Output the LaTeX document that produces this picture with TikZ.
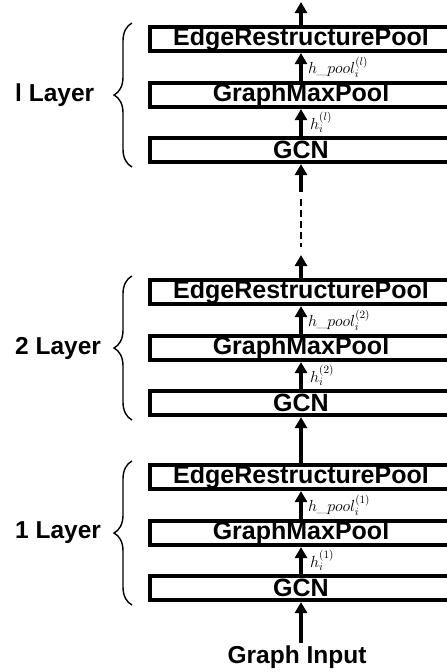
\RequirePackage{fix-cm}
\documentclass[tikz,border=0pt]{standalone}
\usepackage[no-math]{fontspec}
\newfontfamily\labelfont{Liberation Sans}
\usetikzlibrary{arrows.meta,decorations.pathreplacing}

\begin{document}
\begin{tikzpicture}[x=1pt,y=-1pt,
  block/.style={draw, line width=3.6pt, minimum width=302pt, minimum height=24.5pt,
    inner sep=0pt, font=\labelfont\bfseries\fontsize{25}{27}\selectfont},
  flow/.style={line width=3.6pt, -{Triangle[width=12pt,length=11pt]}},
  feat/.style={anchor=west, inner sep=0pt, font=\fontsize{16}{18}\selectfont},
  layername/.style={anchor=west, inner sep=0pt, font=\labelfont\bfseries\fontsize{24.5}{26}\selectfont},
  groupbrace/.style={decorate, decoration={brace, amplitude=18pt}, line width=1.4pt},
  skip/.style={line width=2.6pt, dash pattern=on 7pt off 4pt}]

\useasboundingbox (0,0) rectangle (447,672);
\clip (0,0) rectangle (447,672);

% three stacked layers: GCN -> GraphMaxPool -> EdgeRestructurePool
\foreach \y/\k/\lab in {39/3/l, 292/2/2, 477/1/1} {
  \node[block] (erp\k) at (301,\y) {EdgeRestructurePool};
  \node[block] (gmp\k) at (301,\y+56) {GraphMaxPool};
  \node[block] (gcn\k) at (301,\y+111) {GCN};
  \draw[flow] (gcn\k) -- (gmp\k);
  \draw[flow] (gmp\k) -- (erp\k);
  \node[feat] (hp\k) at (308,\y+28) {$h\kern-0.5pt\_\kern-0.5pt pool_i^{(\lab)}$};
  \node[feat] (h\k) at (310,\y+83.5) {$h_i^{(\lab)}$};
  \coordinate (bt\k) at (132,\y+128);
  \coordinate (bb\k) at (132,\y-16);
  \draw[groupbrace] (bt\k) -- (bb\k);
  \node[layername] (ln\k) at (15,\y+56) {\lab\ Layer};
}

% output of the last layer
\coordinate (out) at (301,2);
\draw[flow] (erp3) -- (out);

% elided layers between layer 2 and layer l
\coordinate (s1) at (301,192);
\draw[flow] (s1) -- (gcn3);
\coordinate (s2) at (301,199);
\coordinate (s3) at (301,247);
\draw[skip] (s2) -- (s3);
\coordinate (s4) at (301,255);
\draw[flow] (erp2) -- (s4);

% layer 1 feeds layer 2
\draw[flow] (erp1) -- (gcn2);

% input graph
\node[layername, anchor=center] (input) at (297,657) {Graph Input};
\coordinate (in) at (301,643);
\draw[flow] (in) -- (gcn1);
\end{tikzpicture}
\end{document}
